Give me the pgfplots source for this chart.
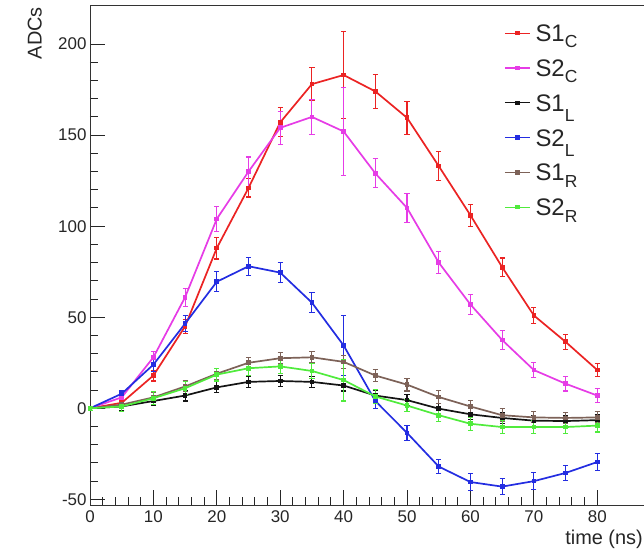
\documentclass[border=0pt]{standalone}
\usepackage{pgfplots}
\pgfplotsset{compat=1.18}
\usepackage{fontspec}
\setmainfont{Liberation Sans}
\definecolor{cRed}{RGB}{235,35,35}
\definecolor{cMag}{RGB}{230,60,230}
\definecolor{cBlue}{RGB}{35,45,225}
\definecolor{cBlack}{RGB}{20,20,20}
\definecolor{cBrown}{RGB}{125,98,88}
\definecolor{cGreen}{RGB}{80,235,60}
\pgfplotstableread{
t v e
0 0 1
5 3 2
10 18 3
15 45 4
20 88 6
25 121 5
30 157 8
35 178 9
40 183 24
45 174 9.5
50 159.5 9
55 133 8
60 106 6
65 77.5 5
70 51 4.5
75 36.5 4
80 21 3.5
}\sonec
\pgfplotstableread{
t v e
0 0 1
5 6 2
10 28 3
15 61 5
20 104 7
25 130 8
30 154 9
35 160 9.5
40 152 24
45 129 8
50 110 8
55 80 6
60 57 5.5
65 37.5 5
70 21 4
75 13.5 4
80 7 4
}\stwoc
\pgfplotstableread{
t v e
0 0 1
5 1 2
10 4 2.5
15 7 3
20 11.5 3
25 14.5 3
30 15 3
35 14.5 3
40 12.5 3
45 7 3
50 4.5 3
55 -0.2 3
60 -3.3 3
65 -5.3 3
70 -6.8 3
75 -7 3
80 -6.5 3
}\sonel
\pgfplotstableread{
t v e
0 0 1
5 8 2
10 24 4
15 46.5 4.5
20 69.5 5.5
25 78 5
30 74.5 5.5
35 58 5.5
40 34.5 16.5
45 4 4
50 -13.5 4
55 -32 4
60 -40.5 4.5
65 -43 4.5
70 -40 4.5
75 -35.5 4
80 -29.5 4.5
}\stwol
\pgfplotstableread{
t v e
0 0 1
5 2 2
10 6 2.5
15 12 3
20 19 3
25 25 3
30 27.5 3
35 28 3
40 25.5 3.5
45 18 3.5
50 13 3.5
55 6.2 3.5
60 1 3.5
65 -3.8 3.5
70 -5 3
75 -5.3 3
80 -5 3
}\soner
\pgfplotstableread{
t v e
0 0 1
5 1 3
10 5.5 3.5
15 11 3.5
20 18.5 3.5
25 22 4
30 23 4
35 20.5 4
40 15.5 11.5
45 6.5 4
50 1.5 3.5
55 -3.8 3.5
60 -8.5 3.5
65 -10.3 3.5
70 -10.3 3.5
75 -10.3 3.5
80 -9.5 3.5
}\stwor
\begin{document}
\begin{tikzpicture}
\begin{axis}[
  scale only axis, width=558bp, height=499bp,
  xmin=0, xmax=88, ymin=-53.1, ymax=220.9,
  xtick={0,10,...,80}, minor x tick num=4,
  ytick={-50,0,...,200}, minor y tick num=4,
  tick pos=left, tick align=inside,
  major tick length=15bp, minor tick length=8bp,
  tick style={black!85, line width=1pt},
  axis line style={black!80, line width=1pt},
  /pgf/number format/assume math mode=true,
  ticklabel style={font=\fontsize{17}{17}\selectfont, text=black!85},
  xticklabel style={yshift=-2bp},
  xlabel={time (ns)},
  xlabel style={at={(axis description cs:1,0)}, anchor=north east, inner sep=0pt,
    font=\fontsize{20}{20}\selectfont, yshift=-25bp, xshift=-5bp, text=black!85},
  ylabel={ADCs},
  ylabel style={at={(axis description cs:-0.086,0.998)}, anchor=south east, inner sep=0pt,
    font=\fontsize{20}{20}\selectfont, text=black!85},
  legend style={draw=none, fill=none, at={(axis description cs:0.742,0.963)},
    anchor=north west, inner sep=0pt, column sep=5bp, row sep=17.8bp,
    nodes={inner sep=0pt, text height=17bp, text depth=0bp},
    font=\fontsize{24}{24}\selectfont, text=black!85},
  legend cell align=left,
  legend image code/.code={\draw[#1, mark repeat=2, mark phase=2, line width=1.3bp] plot coordinates {(0bp,0bp) (12.5bp,0bp) (25bp,0bp)};},
  every axis plot/.append style={line width=1.7bp, mark=square*, mark size=1.5bp,
    mark options={solid}},
  error bars/y dir=both, error bars/y explicit,
  error bars/error bar style={line width=1.1bp},
  error bars/error mark options={rotate=90, mark size=2.6bp, line width=1.1bp},
]
\addplot[cRed] table[x=t, y=v, y error=e] {\sonec};
\addlegendentry{S1\raisebox{-6bp}{\fontsize{17.5}{17.5}\selectfont C}}
\addplot[cMag] table[x=t, y=v, y error=e] {\stwoc};
\addlegendentry{S2\raisebox{-6bp}{\fontsize{17.5}{17.5}\selectfont C}}
\addplot[cBlack] table[x=t, y=v, y error=e] {\sonel};
\addlegendentry{S1\raisebox{-10bp}{\fontsize{17.5}{17.5}\selectfont L}}
\addplot[cBlue] table[x=t, y=v, y error=e] {\stwol};
\addlegendentry{S2\raisebox{-10bp}{\fontsize{17.5}{17.5}\selectfont L}}
\addplot[cBrown] table[x=t, y=v, y error=e] {\soner};
\addlegendentry{S1\raisebox{-6.5bp}{\fontsize{17.5}{17.5}\selectfont R}}
\addplot[cGreen] table[x=t, y=v, y error=e] {\stwor};
\addlegendentry{S2\raisebox{-6.5bp}{\fontsize{17.5}{17.5}\selectfont R}}
\end{axis}
\pgfresetboundingbox
\useasboundingbox (-90bp,-47bp) rectangle (554bp,505bp);
\end{tikzpicture}
\end{document}
